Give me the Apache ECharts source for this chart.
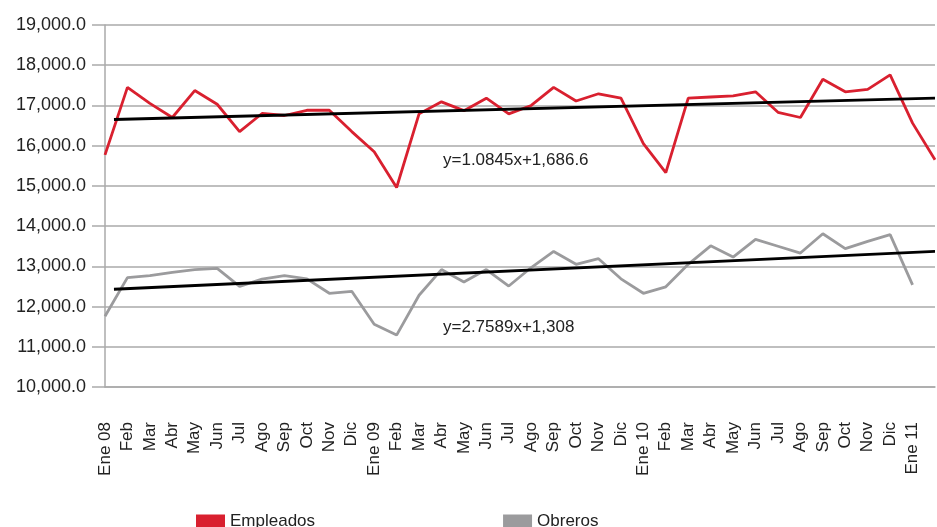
<!DOCTYPE html>
<html>
<head>
<meta charset="utf-8">
<script src="https://cdn.jsdelivr.net/npm/echarts@6/dist/echarts.min.js"></script>
<style>
  html, body { margin: 0; padding: 0; background: #fff; }
  #main { width: 937px; height: 527px; }
</style>
</head>
<body>
<div id="main"></div>
<script>
  // meses (el ultimo punto de Empleados queda sin etiqueta)
  var categories = ['Ene 08','Feb','Mar','Abr','May','Jun','Jul','Ago','Sep','Oct','Nov','Dic',
    'Ene 09','Feb','Mar','Abr','May','Jun','Jul','Ago','Sep','Oct','Nov','Dic',
    'Ene 10','Feb','Mar','Abr','May','Jun','Jul','Ago','Sep','Oct','Nov','Dic',
    'Ene 11',''];

  var empleados = [15770, 17450, 17050, 16700, 17370, 17030, 16350, 16800, 16750, 16880, 16880, 16350,
    15850, 14960, 16790, 17090, 16870, 17180, 16790, 17000, 17450, 17110, 17290, 17180,
    16050, 15330, 17180, 17210, 17240, 17340, 16830, 16700, 17650, 17340, 17400, 17760,
    16560, 15650];

  var obreros = [11760, 12720, 12770, 12850, 12920, 12950, 12500, 12680, 12770, 12690, 12330, 12380,
    11560, 11290, 12280, 12920, 12610, 12920, 12510, 12970, 13370, 13050, 13190, 12690,
    12330, 12490, 13050, 13510, 13230, 13670, 13500, 13330, 13810, 13440, 13620, 13790,
    12540, null];

  // lineas de tendencia: extremos
  var trendEmpleados = [[0.4, 16650], [37, 17180]];
  var trendObreros = [[0.4, 12430], [37, 13370]];

  var yTicks = { min: 10000, max: 19000, interval: 1000 };

  var font = 'Liberation Sans, Arial, sans-serif';
  var chart = echarts.init(document.getElementById('main'));

  var option = {
    animation: false,
    textStyle: { fontFamily: font },
    grid: { left: 105, right: 2, top: 25, bottom: 140 },
    legend: {
      left: 191,
      top: 508,
      itemWidth: 29,
      itemHeight: 14,
      itemGap: 188,
      icon: 'rect',
      textStyle: { fontSize: 17, color: '#222', fontFamily: font },
      data: ['Empleados', 'Obreros']
    },
    xAxis: [{
      type: 'category',
      boundaryGap: false,
      data: categories,
      axisLine: { show: true, lineStyle: { color: '#aaa', width: 1.5 } },
      axisTick: { show: false },
      axisLabel: { rotate: 90, interval: 0, margin: 35, fontSize: 17, color: '#222', fontFamily: font }
    }, {
      type: 'value',
      min: 0,
      max: 37,
      show: false
    }],
    yAxis: {
      type: 'value',
      min: yTicks.min,
      max: yTicks.max,
      interval: yTicks.interval,
      axisLine: { show: true, lineStyle: { color: '#aaa', width: 1.5 } },
      axisTick: { show: true, length: 13, lineStyle: { color: '#aaa', width: 1.5 } },
      splitLine: { show: true, lineStyle: { color: '#aaa', width: 1.5 } },
      axisLabel: {
        margin: 19,
        fontSize: 18,
        color: '#222',
        fontFamily: font,
        formatter: function (v) {
          return v.toLocaleString('en-US', { minimumFractionDigits: 1, maximumFractionDigits: 1 });
        }
      }
    },
    series: [{
      name: 'Empleados',
      type: 'line',
      data: empleados,
      symbol: 'none',
      color: '#d9202f',
      lineStyle: { width: 2.8, color: '#d9202f' }
    }, {
      name: 'Obreros',
      type: 'line',
      data: obreros,
      symbol: 'none',
      color: '#9b9b9d',
      lineStyle: { width: 2.8, color: '#9b9b9d' }
    }, {
      name: 'tendEmpleados',
      type: 'line',
      xAxisIndex: 1,
      data: trendEmpleados,
      symbol: 'none',
      lineStyle: { width: 2.8, color: '#000' }
    }, {
      name: 'tendObreros',
      type: 'line',
      xAxisIndex: 1,
      data: trendObreros,
      symbol: 'none',
      lineStyle: { width: 2.8, color: '#000' }
    }],
    graphic: [{
      type: 'text',
      left: 443,
      top: 152,
      style: { text: 'y=1.0845x+1,686.6', fontSize: 17, fill: '#222', fontFamily: font }
    }, {
      type: 'text',
      left: 443,
      top: 319,
      style: { text: 'y=2.7589x+1,308', fontSize: 17, fill: '#222', fontFamily: font }
    }]
  };

  chart.setOption(option);
</script>
</body>
</html>
